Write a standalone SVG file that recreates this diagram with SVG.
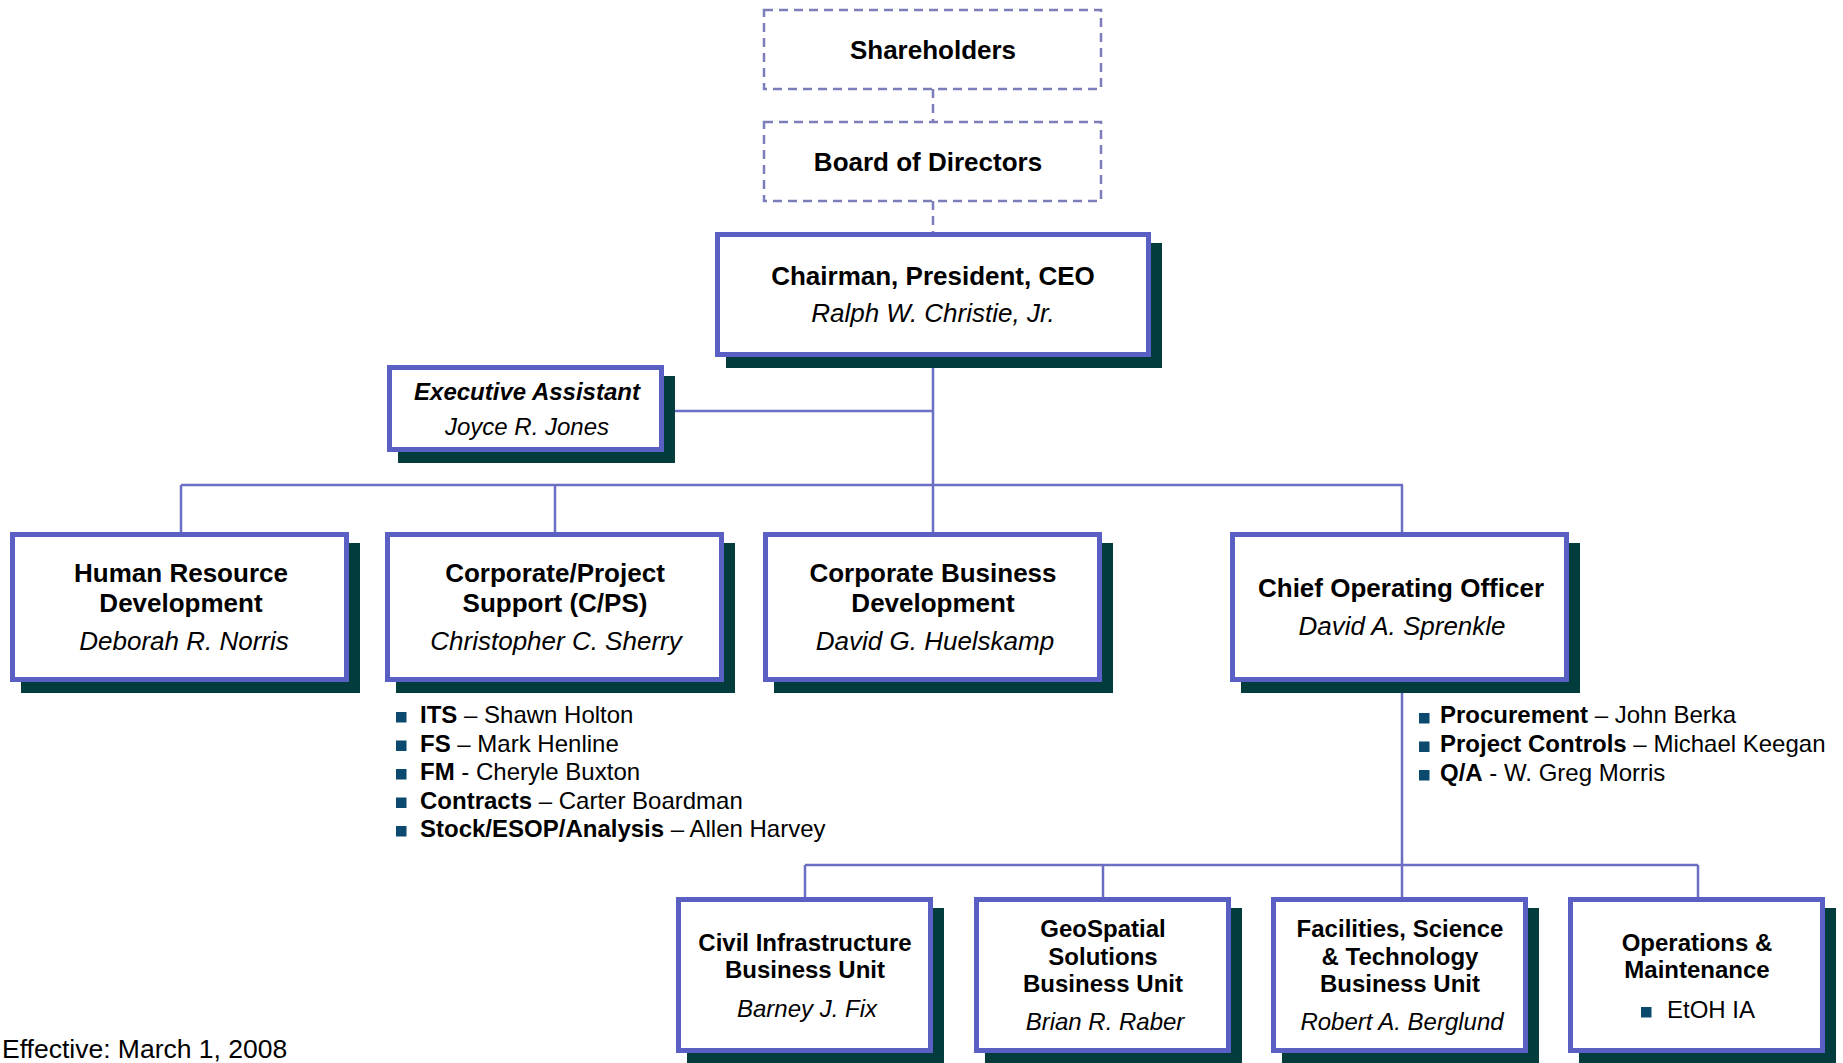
<svg xmlns="http://www.w3.org/2000/svg" width="1843" height="1063" viewBox="0 0 1843 1063">
<style>
text{font-family:"Liberation Sans",Arial,sans-serif;fill:#000}
.t{font-size:26px;font-weight:bold;text-anchor:middle}
.n{font-size:26px;font-style:italic;text-anchor:middle}
.ts{font-size:24px;font-weight:bold;text-anchor:middle}
.ns{font-size:24px;font-style:italic;text-anchor:middle}
.li{font-size:24px}
.b{font-weight:bold}
.box{fill:#fff;stroke:#5A5FC3;stroke-width:5}
.sh{fill:#023C3C}
.dash{fill:#fff;stroke:#7B7EBA;stroke-width:2.5;stroke-dasharray:9 6}
.ln{fill:none;stroke:#6B6FC2;stroke-width:2.5}
.dl{fill:none;stroke:#7B7EBA;stroke-width:2.5;stroke-dasharray:9 6}
.bul{fill:#0B4A6E}
</style>
<rect width="1843" height="1063" fill="#fff"/>
<g id="connectors">
<path class="dl" d="M933 89V122M933 201V232"/>
<path class="ln" d="M933 357V485M664 411H933M181 485H1403M181 485V532M555 485V532M933 485V532M1402 485V532M1402 682V865M805 865H1698M805 865V897M1103 865V897M1402 865V897M1698 865V897"/>
</g>
<g id="shareholders">
<rect class="dash" x="764" y="10" width="337" height="79"/>
<text class="t" x="933" y="59">Shareholders</text>
</g>
<g id="board">
<rect class="dash" x="764" y="122" width="337" height="79"/>
<text class="t" x="928" y="171">Board of Directors</text>
</g>
<g id="ceo">
<rect class="sh" x="726" y="243" width="436" height="125"/>
<rect class="box" x="717.5" y="234.5" width="431" height="120"/>
<text class="t" x="933" y="285">Chairman, President, CEO</text>
<text class="n" x="933" y="322">Ralph W. Christie, Jr.</text>
</g>
<g id="exec-assistant">
<rect class="sh" x="398" y="376" width="277" height="87"/>
<rect class="box" x="389.5" y="367.5" width="272" height="82"/>
<text x="527" y="400" style="font-size:24px;font-weight:bold;font-style:italic;text-anchor:middle">Executive Assistant</text>
<text class="ns" x="527" y="435">Joyce R. Jones</text>
</g>
<g id="hr">
<rect class="sh" x="21" y="543" width="339" height="150"/>
<rect class="box" x="12.5" y="534.5" width="334" height="145"/>
<text class="t" x="181" y="582">Human Resource</text>
<text class="t" x="181" y="612">Development</text>
<text class="n" x="184" y="650">Deborah R. Norris</text>
</g>
<g id="cps">
<rect class="sh" x="396" y="543" width="339" height="150"/>
<rect class="box" x="387.5" y="534.5" width="334" height="145"/>
<text class="t" x="555" y="582">Corporate/Project</text>
<text class="t" x="555" y="612">Support (C/PS)</text>
<text class="n" x="556" y="650">Christopher C. Sherry</text>
</g>
<g id="cps-list">
<rect class="bul" x="396" y="712" width="10.5" height="10.5"/>
<text class="li" x="420" y="723"><tspan class="b">ITS</tspan> – Shawn Holton</text>
<rect class="bul" x="396" y="740.5" width="10.5" height="10.5"/>
<text class="li" x="420" y="752"><tspan class="b">FS</tspan> – Mark Henline</text>
<rect class="bul" x="396" y="769" width="10.5" height="10.5"/>
<text class="li" x="420" y="780"><tspan class="b">FM</tspan> - Cheryle Buxton</text>
<rect class="bul" x="396" y="797.5" width="10.5" height="10.5"/>
<text class="li" x="420" y="809"><tspan class="b">Contracts</tspan> – Carter Boardman</text>
<rect class="bul" x="396" y="826" width="10.5" height="10.5"/>
<text class="li" x="420" y="837"><tspan class="b">Stock/ESOP/Analysis</tspan> – Allen Harvey</text>
</g>
<g id="cbd">
<rect class="sh" x="774" y="543" width="339" height="150"/>
<rect class="box" x="765.5" y="534.5" width="334" height="145"/>
<text class="t" x="933" y="582">Corporate Business</text>
<text class="t" x="933" y="612">Development</text>
<text class="n" x="935" y="650">David G. Huelskamp</text>
</g>
<g id="coo">
<rect class="sh" x="1241" y="543" width="339" height="150"/>
<rect class="box" x="1232.5" y="534.5" width="334" height="145"/>
<text class="t" x="1401" y="597">Chief Operating Officer</text>
<text class="n" x="1402" y="635">David A. Sprenkle</text>
</g>
<g id="coo-list">
<rect class="bul" x="1419" y="713" width="10.5" height="10.5"/>
<text class="li" x="1440" y="723"><tspan class="b">Procurement</tspan> – John Berka</text>
<rect class="bul" x="1419" y="741.5" width="10.5" height="10.5"/>
<text class="li" x="1440" y="752"><tspan class="b">Project Controls</tspan> – Michael Keegan</text>
<rect class="bul" x="1419" y="770" width="10.5" height="10.5"/>
<text class="li" x="1440" y="781"><tspan class="b">Q/A</tspan> - W. Greg Morris</text>
</g>
<g id="civil">
<rect class="sh" x="687" y="908" width="257" height="156"/>
<rect class="box" x="678.5" y="899.5" width="252" height="151"/>
<text class="ts" x="805" y="951">Civil Infrastructure</text>
<text class="ts" x="805" y="978">Business Unit</text>
<text class="ns" x="807" y="1017">Barney J. Fix</text>
</g>
<g id="geospatial">
<rect class="sh" x="985" y="908" width="257" height="156"/>
<rect class="box" x="976.5" y="899.5" width="252" height="151"/>
<text class="ts" x="1103" y="937">GeoSpatial</text>
<text class="ts" x="1103" y="965">Solutions</text>
<text class="ts" x="1103" y="992">Business Unit</text>
<text class="ns" x="1105" y="1030">Brian R. Raber</text>
</g>
<g id="facilities">
<rect class="sh" x="1282" y="908" width="257" height="156"/>
<rect class="box" x="1273.5" y="899.5" width="252" height="151"/>
<text class="ts" x="1400" y="937">Facilities, Science</text>
<text class="ts" x="1400" y="965">&amp; Technology</text>
<text class="ts" x="1400" y="992">Business Unit</text>
<text class="ns" x="1402" y="1030">Robert A. Berglund</text>
</g>
<g id="om">
<rect class="sh" x="1579" y="908" width="257" height="156"/>
<rect class="box" x="1570.5" y="899.5" width="252" height="151"/>
<text class="ts" x="1697" y="951">Operations &amp;</text>
<text class="ts" x="1697" y="978">Maintenance</text>
<rect class="bul" x="1641" y="1007" width="10.5" height="10.5"/>
<text class="li" x="1667" y="1018">EtOH IA</text>
</g>
<text x="2" y="1058" style="font-size:26.5px">Effective: March 1, 2008</text>
</svg>
